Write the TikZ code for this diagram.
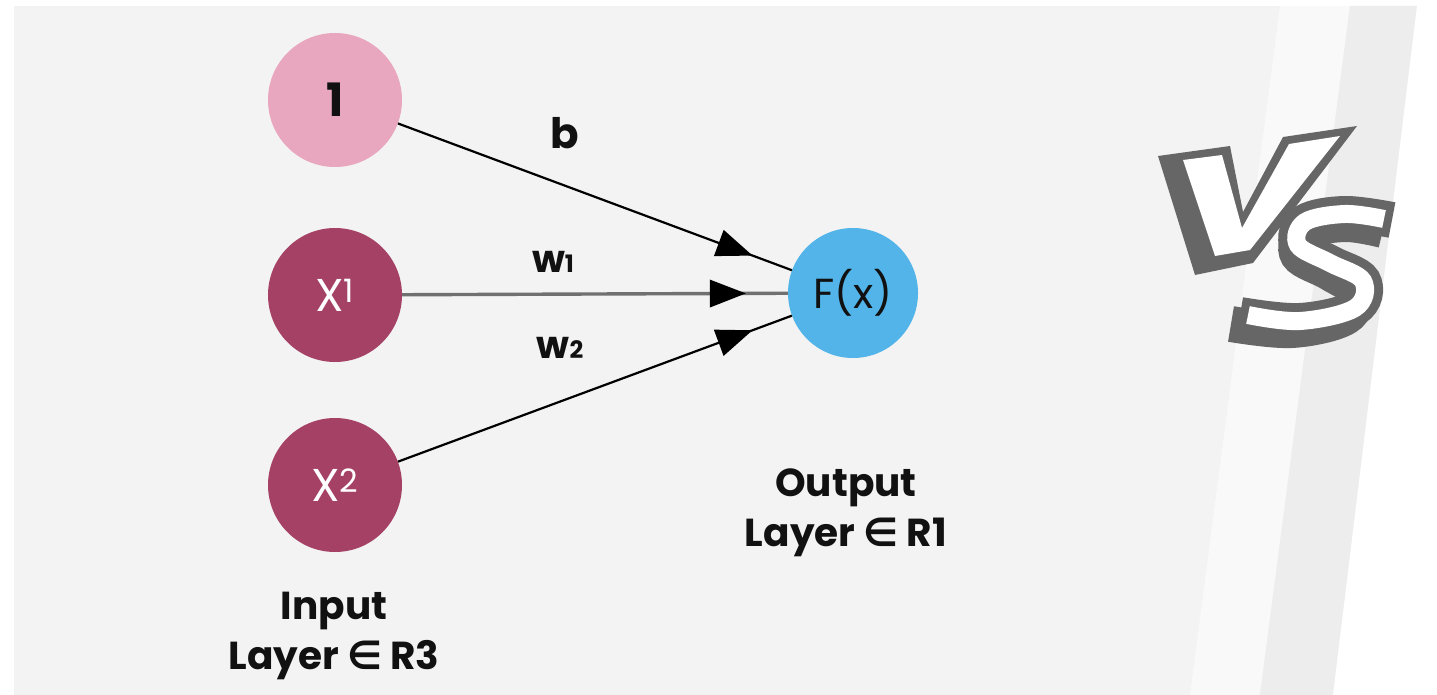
\documentclass[tikz,border=0pt]{standalone}
\usepackage{fontspec}
\setmainfont{Poppins}
\newfontfamily\symfont{DejaVu Sans}
\usetikzlibrary{arrows.meta,decorations.markings}
\definecolor{bggray}{HTML}{F3F3F3}
\definecolor{bandlight}{HTML}{F9F9F9}
\definecolor{bandgray}{HTML}{EDEDED}
\definecolor{pinkc}{HTML}{E8A7BE}
\definecolor{maroonc}{HTML}{A64166}
\definecolor{bluec}{HTML}{52B4E9}
\definecolor{vsgray}{HTML}{666666}
\definecolor{midgray}{HTML}{707070}
\definecolor{inkc}{HTML}{111111}
\tikzset{
  neuron/.style={circle, minimum size=134pt, inner sep=0pt},
  headmark/.style={postaction={decorate}, decoration={markings,
     mark=at position -42pt with {\fill[black] (0pt,0pt) -- (-36pt,14pt) -- (-36pt,-14pt) -- cycle;}}},
  conn/.style={draw=black, line width=2.2pt, headmark},
  connmid/.style={draw=midgray, line width=3.4pt, headmark},
  lbl/.style={text=inkc, inner sep=0pt},
  laytxt/.style={text=inkc, align=center, inner sep=0pt, font=\fontsize{39}{50}\selectfont\bfseries}
}
\begin{document}
\begin{tikzpicture}[x=1pt,y=-1pt]
\useasboundingbox (0,0) rectangle (1437,695);
% background
\fill[white] (0,0) rectangle (1437,695);
\fill[bggray] (14,6) rectangle (1437,695);
\fill[bandlight] (1280,6) -- (1350,6) -- (1260,695) -- (1190,695) -- cycle;
\fill[bandgray] (1350,6) -- (1417,6) -- (1333,695) -- (1260,695) -- cycle;
\fill[white] (1417,6) -- (1437,6) -- (1437,695) -- (1333,695) -- cycle;

% neurons
\node[neuron, fill=pinkc, text=inkc] (one) at (335,100) {\fontsize{46}{46}\selectfont\bfseries 1};
\node[neuron, fill=maroonc, text=white] (x1) at (335,295) {\fontsize{46}{46}\selectfont X\textsuperscript{1}};
\node[neuron, fill=maroonc, text=white] (x2) at (335,485) {\fontsize{46}{46}\selectfont X\textsuperscript{2}};
\node[neuron, minimum size=130pt, fill=bluec, text=inkc] (f) at (853,293) {\fontsize{42}{42}\selectfont F(x)};

% connectors
\path[conn] (one) -- (f);
\path[connmid] (x1) -- (f);
\path[conn] (x2) -- (f);

% weight labels
\node[lbl] (lb) at (565,133) {\fontsize{42}{42}\selectfont\bfseries b};
\node[lbl] (lw1) at (553,262) {\fontsize{38}{38}\selectfont\bfseries w{\fontsize{24}{24}\selectfont 1}};
\node[lbl] (lw2) at (560,348) {\fontsize{38}{38}\selectfont\bfseries w{\fontsize{24}{24}\selectfont 2}};

% layer labels
\node[laytxt] (inlab) at (334,636) {Input\\Layer {\symfont\bfseries ∈} R3};
\node[laytxt] (outlab) at (846,513) {Output\\Layer {\symfont\bfseries ∈} R1};

% VS logo
\fill[vsgray] (1158,156) -- (1230,146) -- (1243,212) -- (1283,137) -- (1357,126) -- (1253,263) -- (1195,275) -- cycle;
\fill[white] (1183,160) -- (1222,155) -- (1242,228) -- (1289,144) -- (1340,136) -- (1250,250) -- (1215,256) -- cycle;
\begin{scope}[line cap=butt]
\draw[vsgray, line width=36pt] plot[smooth, tension=0.6] coordinates {(1383,230) (1345,224) (1305,232) (1298,255) (1330,273) (1355,291) (1346,317) (1292,330) (1231,324)};
\draw[vsgray, line width=36pt] plot[smooth, tension=0.6] coordinates {(1392,220) (1345,214) (1305,222) (1298,245) (1330,263) (1363,281) (1355,308) (1300,321) (1240,315)};
\draw[white, line width=18pt] plot[smooth, tension=0.6] coordinates {(1384,219) (1345,214) (1305,222) (1298,245) (1330,263) (1363,281) (1355,308) (1300,321) (1248,315)};
\end{scope}
\end{tikzpicture}
\end{document}
